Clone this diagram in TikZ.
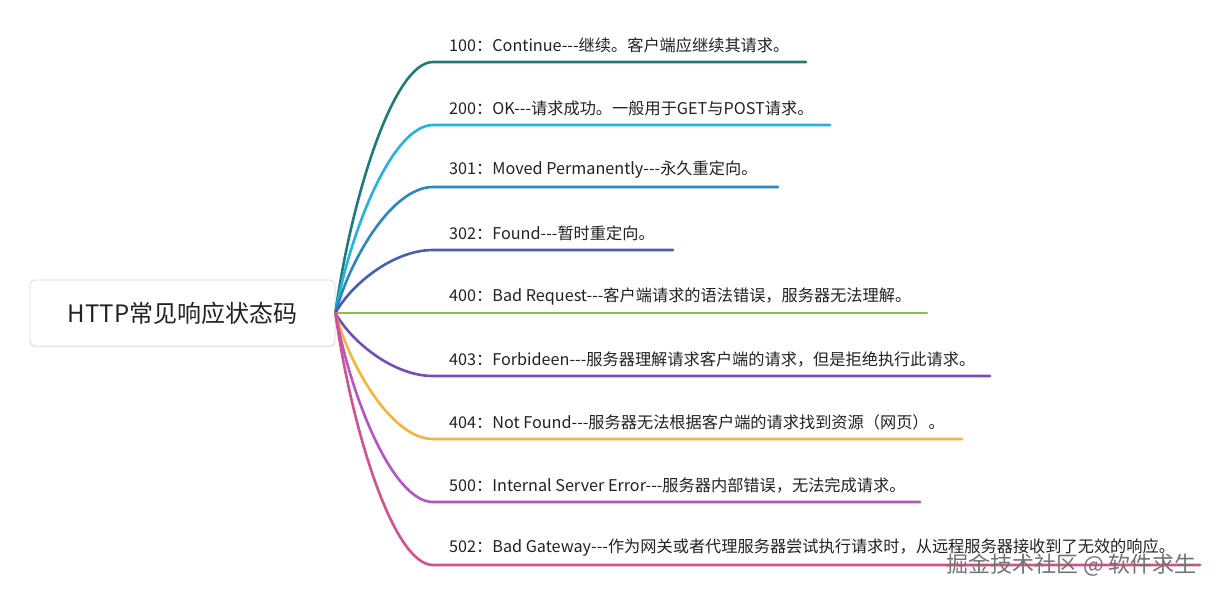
\documentclass[tikz,border=0pt]{standalone}
\usepackage{fontspec}
\setmainfont{Noto Sans CJK SC}
\usetikzlibrary{shadows,calc}
\definecolor{c100}{HTML}{1F7B7A}
\definecolor{c200}{HTML}{25B2E0}
\definecolor{c301}{HTML}{2C86C0}
\definecolor{c302}{HTML}{4A5DB5}
\definecolor{c400}{HTML}{86C052}
\definecolor{c403}{HTML}{7050B5}
\definecolor{c404}{HTML}{F5B43A}
\definecolor{c500}{HTML}{B455C5}
\definecolor{c502}{HTML}{D4508F}
\definecolor{txt}{HTML}{222222}
\definecolor{rootborder}{HTML}{DADADA}
\newcommand\ddd{-{}-{}-}
\newcommand\mybranch[5]{%
  \coordinate (s#1) at (433,#2);
  \coordinate (e#1) at (#3,#2);
  \node[lbl] (t#1) at (449,{#2-17}) {#5};
  \draw[branchline,#4] (root.east) .. controls (351,{313+0.45*(#2-313)}) and (393,#2) .. (s#1) -- (e#1);
}
\begin{document}
\begin{tikzpicture}[x=1pt,y=-1pt,
  rootbox/.style={draw=rootborder,line width=0.8pt,fill=white,rounded corners=5pt,
    minimum width=305pt,minimum height=66pt,inner sep=0pt,
    drop shadow={shadow xshift=0pt,shadow yshift=-1.5pt,opacity=0.12},
    font=\fontsize{24}{27}\selectfont,text=txt},
  lbl/.style={anchor=west,inner sep=0pt,font=\fontsize{16.2}{19}\selectfont,text=txt},
  branchline/.style={line width=2.6pt,line cap=round}]
\useasboundingbox (0,0) rectangle (1217,597);
\fill[white] (0,0) rectangle (1217,597);
\node[rootbox] (root) at (182.5,313) {HTTP常见响应状态码};
\mybranch{a}{62}{806}{c100}{100：Continue\ddd 继续。客户端应继续其请求。}
\mybranch{b}{125}{830}{c200}{200：OK\ddd 请求成功。一般用于GET与POST请求。}
\mybranch{c}{187}{778}{c301}{301：Moved Permanently\ddd 永久重定向。}
\mybranch{d}{250}{673}{c302}{302：Found\ddd 暂时重定向。}
\mybranch{e}{313}{927}{c400}{400：Bad Request\ddd 客户端请求的语法错误，服务器无法理解。}
\mybranch{f}{376}{990}{c403}{403：Forbideen\ddd 服务器理解请求客户端的请求，但是拒绝执行此请求。}
\mybranch{g}{439}{962}{c404}{404：Not Found\ddd 服务器无法根据客户端的请求找到资源（网页）。}
\mybranch{h}{502}{920}{c500}{500：Internal Server Error\ddd 服务器内部错误，无法完成请求。}
\mybranch{i}{565}{1200}{c502}{502：Bad Gateway\ddd 作为网关或者代理服务器尝试执行请求时，从远程服务器接收到了无效的响应。}
\node[anchor=east,inner sep=0pt,font=\fontsize{22}{24}\selectfont,text=black!55] (wm) at (1197,565) {掘金技术社区 @ 软件求生};
\end{tikzpicture}
\end{document}
